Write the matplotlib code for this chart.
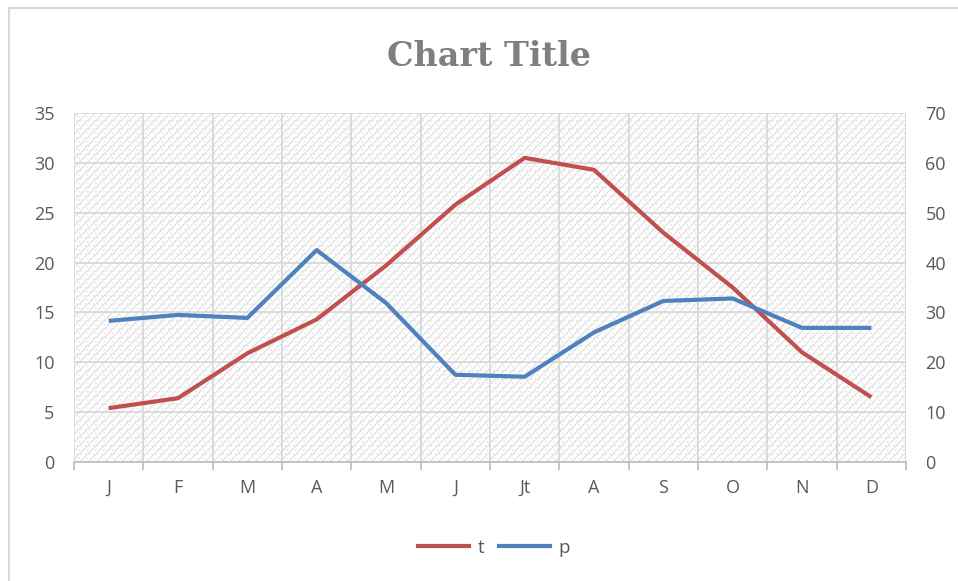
import matplotlib
matplotlib.use("Agg")
import matplotlib.pyplot as plt
from matplotlib.patches import Rectangle
import numpy as np

months = ["J", "F", "M", "A", "M", "J", "Jt", "A", "S", "O", "N", "D"]
t_vals = [5.4, 6.4, 10.9, 14.3, 19.7, 25.8, 30.5, 29.3, 23.0, 17.5, 11.0, 6.5]
p_vals = [28.3, 29.5, 28.9, 42.5, 31.9, 17.5, 17.1, 26.0, 32.3, 32.8, 26.9, 26.9]
left_ticks = [0, 5, 10, 15, 20, 25, 30, 35]
right_ticks = [0, 10, 20, 30, 40, 50, 60, 70]

plt.rcParams["hatch.linewidth"] = 0.7

W, H = 958, 581
fig = plt.figure(figsize=(W / 100, H / 100), dpi=100)
fig.patches.append(Rectangle((9 / W, -0.05), 1.0, 1 - 8 / H + 0.05,
                             transform=fig.transFigure, fill=False,
                             edgecolor="#d9d9d9", linewidth=1.5))

l, r, top, bot = 74, 906, 113, 462
ax = fig.add_axes([l / W, 1 - bot / H, (r - l) / W, (bot - top) / H])
x = np.arange(len(months))
ax.set_xlim(-0.5, len(months) - 0.5)
ax.set_ylim(0, 35)

# patterned background
ax.add_patch(Rectangle((0, 0), 1, 1, transform=ax.transAxes, facecolor="white",
                       edgecolor="#dadada", hatch="////", linewidth=0, zorder=0))
ax.add_patch(Rectangle((0, 0), 1, 1, transform=ax.transAxes, facecolor="none",
                       edgecolor="#e6e6e6", hatch="....", linewidth=0, zorder=0))

grid_c = "#d9d9d9"
for yv in left_ticks:
    ax.axhline(yv, color=grid_c, lw=1.3, zorder=1)
for xv in np.arange(-0.5, len(months), 1):
    ax.axvline(xv, color=grid_c, lw=1.3, zorder=1)

ax.plot(x, t_vals, color="#c0504d", lw=3, zorder=3, label="t", solid_capstyle="butt")
ax2 = ax.twinx()
ax2.set_ylim(0, 70)
ax2.plot(x, p_vals, color="#4f81bd", lw=3, zorder=3, label="p", solid_capstyle="butt")

for a in (ax, ax2):
    for s in a.spines.values():
        s.set_visible(False)
ax.spines["bottom"].set_visible(True)
ax.spines["bottom"].set_color("#bfbfbf")
ax.spines["bottom"].set_linewidth(1.3)

tick_font = dict(family="Open Sans", size=13, color="#595959")
ax.set_yticks(left_ticks)
ax.set_yticklabels([str(v) for v in left_ticks], **tick_font)
ax2.set_yticks(right_ticks)
ax2.set_yticklabels([str(v) for v in right_ticks], **tick_font)
ax.tick_params(axis="y", length=0, pad=14)
ax2.tick_params(axis="y", length=0, pad=14)

ax.set_xticks(np.arange(-0.5, len(months), 1))
ax.set_xticklabels([])
ax.tick_params(axis="x", which="major", length=6, color="#bfbfbf", width=1.3)
ax.set_xticks(x, minor=True)
ax.set_xticklabels(months, minor=True, **tick_font)
ax.tick_params(axis="x", which="minor", length=0, pad=12)

fig.text(489 / W, 1 - 56 / H, "Chart Title", ha="center", va="center",
         family="DejaVu Serif", weight="bold", size=24, color="#7f7f7f")

h1, = ax.plot([], [], color="#c0504d", lw=3, label="t")
h2, = ax.plot([], [], color="#4f81bd", lw=3, label="p")
fig.legend(handles=[h1, h2], loc="center", bbox_to_anchor=(494 / W, 1 - 548 / H),
           ncol=2, frameon=False, prop=dict(family="Open Sans", size=13.5),
           labelcolor="#595959", handlelength=2.7, columnspacing=0.8, handletextpad=0.45)

fig.savefig("out.png", dpi=100)
